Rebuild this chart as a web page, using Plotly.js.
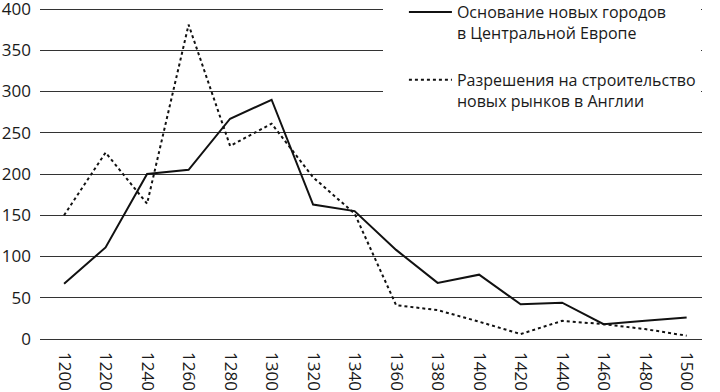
<!DOCTYPE html>
<html><head><meta charset="utf-8">
<script src="https://cdn.plot.ly/plotly-3.0.1.min.js"></script>
<style>html,body{margin:0;padding:0;background:#fff}#chart{width:720px;height:392px}</style>
</head><body><div id="chart"></div>
<script>
const years = [1200,1220,1240,1260,1280,1300,1320,1340,1360,1380,1400,1420,1440,1460,1480,1500];
const newTowns = [67,111,200,205,267,290,163,155,108,68,78,42,44,18,22,26];
const newMarkets = [150,226,164,381,234,261,196,152,41,35,21,6,22,18,12,4];
const nameTowns = 'Основание новых городов<br>в Центральной Европе';
const nameMarkets = 'Разрешения на строительство<br>новых рынков в Англии';
const yTicks = [0,50,100,150,200,250,300,350,400];

const legendFont = {family: '"Open Sans", "Noto Sans", sans-serif', size: 16, color: '#1a1a1a'};
const tickFont = {family: '"Open Sans", "Noto Sans", sans-serif', size: 17, color: '#1a1a1a'};
const traces = [
  {x: years, y: newTowns, name: nameTowns, mode: 'lines', legendgroup: 'a',
   line: {color: '#111', width: 2}},
  {x: years, y: newMarkets, name: nameMarkets, mode: 'lines', legendgroup: 'b',
   line: {color: '#111', width: 2, dash: 'dot'}}
];
const layout = {
  width: 720, height: 392,
  margin: {l: 40, r: 18, t: 7, b: 51, autoexpand: false},
  paper_bgcolor: '#fff', plot_bgcolor: '#fff',
  font: legendFont,
  showlegend: true,
  legend: {x: 0.518, y: 1.0355, xanchor: 'left', yanchor: 'top', bgcolor: '#fff',
           valign: 'top', traceorder: 'grouped', tracegroupgap: 23, font: legendFont,
           indentation: 21, itemwidth: 43},
  xaxis: {type: 'linear', range: [1188.4, 1507.4], tickmode: 'array', tickvals: years,
          ticktext: years.map(String), tickangle: 90, showgrid: false, zeroline: false,
          showline: false, ticks: '', automargin: false, tickfont: tickFont,
          ticklabelstandoff: 10, ticklabeloverflow: 'allow'},
  yaxis: {range: [-2.43, 402.42], tickmode: 'array', tickvals: yTicks, showgrid: true,
          gridcolor: '#333', gridwidth: 1, zeroline: false, showline: false, ticks: '',
          automargin: false, tickfont: tickFont, ticklabelstandoff: 8,
          ticklabeloverflow: 'allow'}
};
Plotly.newPlot('chart', traces, layout, {displayModeBar: false, staticPlot: true});
</script></body></html>
